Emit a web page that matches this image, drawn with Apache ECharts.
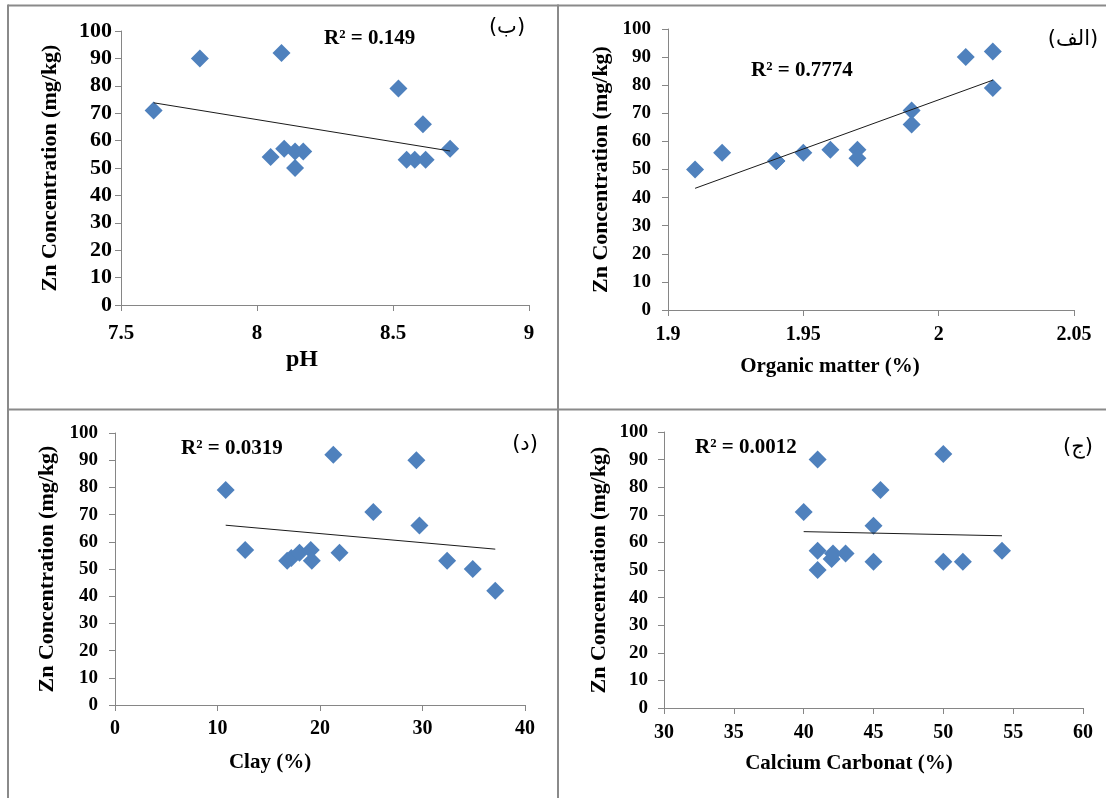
<!DOCTYPE html>
<html>
<head>
<meta charset="utf-8">
<script src="https://cdn.jsdelivr.net/npm/echarts@6/dist/echarts.min.js"></script>
<style>
html,body{margin:0;padding:0;background:#fff;}
#chart{width:1106px;height:798px;}
</style>
</head>
<body>
<div id="chart"></div>
<script>
// ---------- data ----------
const phX = [7.62, 7.79, 8.09, 8.52, 8.61, 8.71, 8.05, 8.10, 8.14, 8.17, 8.14, 8.55, 8.58, 8.62];
const phY = [71, 90, 92, 79, 66, 57, 54, 57, 56, 56, 50, 53, 53, 53];
const phTrendX = [7.62, 8.71];
const phTrendY = [73.8, 56.2];

const omX = [1.91, 1.92, 1.94, 1.94, 1.94, 1.95, 1.96, 1.97, 1.97, 1.99, 1.99, 2.01, 2.02, 2.02];
const omY = [50, 56, 53, 53, 53, 56, 57, 57, 54, 71, 66, 90, 92, 79];
const omTrendX = [1.91, 2.02];
const omTrendY = [43.3, 81.8];

const clayX = [10.8, 12.7, 16.8, 17.2, 18.0, 19.1, 19.2, 21.3, 21.9, 25.2, 29.4, 29.7, 32.4, 34.9, 37.1];
const clayY = [79, 57, 53, 54, 56, 57, 53, 92, 56, 71, 90, 66, 53, 50, 42];
const clayTrendX = [10.8, 37.1];
const clayTrendY = [66.1, 57.3];

const caX = [40, 41, 41, 41, 42, 42.1, 43, 45, 45, 45.5, 50, 50, 51.4, 54.2];
const caY = [71, 90, 57, 50, 54, 56, 56, 66, 53, 79, 92, 53, 53, 57];
const caTrendX = [40, 54.2];
const caTrendY = [63.9, 62.4];

const phTicks = [7.5, 8, 8.5, 9];
const omTicks = [1.9, 1.95, 2, 2.05];
const clayTicks = [0, 10, 20, 30, 40];
const caTicks = [30, 35, 40, 45, 50, 55, 60];
const znTicks = [0, 10, 20, 30, 40, 50, 60, 70, 80, 90, 100];

const xTitles = ['pH', 'Organic matter (%)', 'Clay (%)', 'Calcium Carbonat (%)'];
const yTitle = 'Zn Concentration (mg/kg)';
const r2Labels = ['R² = 0.149', 'R² = 0.7774', 'R² = 0.0319', 'R² = 0.0012'];
const panelTags = ['(ب)', '(الف)', '(د)', '(ج)'];

// ---------- layout ----------
const grids = [
  {left: 121, top: 31, width: 408, height: 274},
  {left: 668, top: 29, width: 406, height: 281},
  {left: 115, top: 433, width: 410, height: 272},
  {left: 664, top: 432, width: 419, height: 276}
];
const xTickSets = [phTicks, omTicks, clayTicks, caTicks];
const xLabelSize = [21, 20, 20, 20];
const xLabelMargin = [18, 15, 14, 15];
const yLabelSize = [22, 19, 19, 19];
const yLabelMargin = [9, 17, 17, 16];
const yNameGap = [60, 56, 57, 54];

const serif = '"Liberation Serif", "Times New Roman", serif';
const axisGray = '#868686';

const xAxes = xTickSets.map((t, i) => ({
  type: 'value', gridIndex: i,
  min: t[0], max: t[t.length - 1], interval: t[1] - t[0],
  axisLine: {show: true, onZero: false, lineStyle: {color: axisGray, width: 1}},
  axisTick: {show: true, length: 6, lineStyle: {color: axisGray}},
  splitLine: {show: false},
  axisLabel: {fontFamily: serif, fontWeight: 'bold', fontSize: xLabelSize[i], color: '#000', margin: xLabelMargin[i],
    formatter: v => String(+v.toFixed(2))}
}));
const yAxes = grids.map((g, i) => ({
  type: 'value', gridIndex: i,
  min: znTicks[0], max: znTicks[znTicks.length - 1], interval: znTicks[1] - znTicks[0],
  axisLine: {show: true, onZero: false, lineStyle: {color: axisGray, width: 1}},
  axisTick: {show: true, length: 6, lineStyle: {color: axisGray}},
  splitLine: {show: false},
  axisLabel: {fontFamily: serif, fontWeight: 'bold', fontSize: yLabelSize[i], color: '#000', margin: yLabelMargin[i]},
  name: yTitle, nameLocation: 'middle', nameRotate: 90, nameGap: yNameGap[i],
  nameTextStyle: {fontFamily: serif, fontWeight: 'bold', fontSize: 22, color: '#000'}
}));

const scatterSets = [[phX, phY], [omX, omY], [clayX, clayY], [caX, caY]];
const trendSets = [[phTrendX, phTrendY], [omTrendX, omTrendY], [clayTrendX, clayTrendY], [caTrendX, caTrendY]];
const series = [];
trendSets.forEach((s, i) => {
  series.push({
    type: 'line', xAxisIndex: i, yAxisIndex: i, silent: true,
    data: s[0].map((x, k) => [x, s[1][k]]),
    showSymbol: false, symbol: 'none',
    lineStyle: {color: '#1a1a1a', width: 1}, z: 3
  });
});
scatterSets.forEach((s, i) => {
  series.push({
    type: 'scatter', xAxisIndex: i, yAxisIndex: i,
    data: s[0].map((x, k) => [x, s[1][k]]),
    symbol: 'diamond', symbolSize: 18,
    itemStyle: {color: '#4F81BD', opacity: 1}, z: 2
  });
});

// ---------- decorations ----------
const borderColor = '#8a8a8a';
const graphics = [
  {type: 'line', shape: {x1: 8, y1: 5.5, x2: 1106, y2: 5.5}},
  {type: 'line', shape: {x1: 8, y1: 4.5, x2: 8, y2: 798}},
  {type: 'line', shape: {x1: 558, y1: 4.5, x2: 558, y2: 798}},
  {type: 'line', shape: {x1: 8, y1: 409.5, x2: 1106, y2: 409.5}}
].map(g => Object.assign(g, {silent: true, style: {stroke: borderColor, lineWidth: 2}}));

const xTitlePos = [[302, 360, 24], [830, 367, 21], [270, 763, 21], [849, 764, 21]];
xTitlePos.forEach((p, i) => graphics.push({
  type: 'text', x: p[0], y: p[1], silent: true,
  style: {text: xTitles[i], fill: '#000', font: 'bold ' + p[2] + 'px ' + serif, align: 'center', verticalAlign: 'middle'}
}));
const r2Pos = [[324, 39], [751, 71], [181, 449], [695, 448]];
r2Pos.forEach((p, i) => graphics.push({
  type: 'text', x: p[0], y: p[1], silent: true,
  style: {text: r2Labels[i], fill: '#000', font: 'bold 21px ' + serif, align: 'left', verticalAlign: 'middle'}
}));
const tagPos = [[507, 28], [1073, 40], [525, 445], [1078, 448]];
tagPos.forEach((p, i) => graphics.push({
  type: 'text', x: p[0], y: p[1], silent: true,
  style: {text: panelTags[i], fill: '#000', font: '21px "DejaVu Sans", sans-serif', align: 'center', verticalAlign: 'middle'}
}));

const chart = echarts.init(document.getElementById('chart'), null, {renderer: 'canvas'});
chart.setOption({
  backgroundColor: '#fff',
  animation: false,
  grid: grids.map(g => Object.assign({containLabel: false, outerBoundsMode: 'none'}, g)),
  xAxis: xAxes,
  yAxis: yAxes,
  series: series,
  graphic: graphics
});
</script>
</body>
</html>
